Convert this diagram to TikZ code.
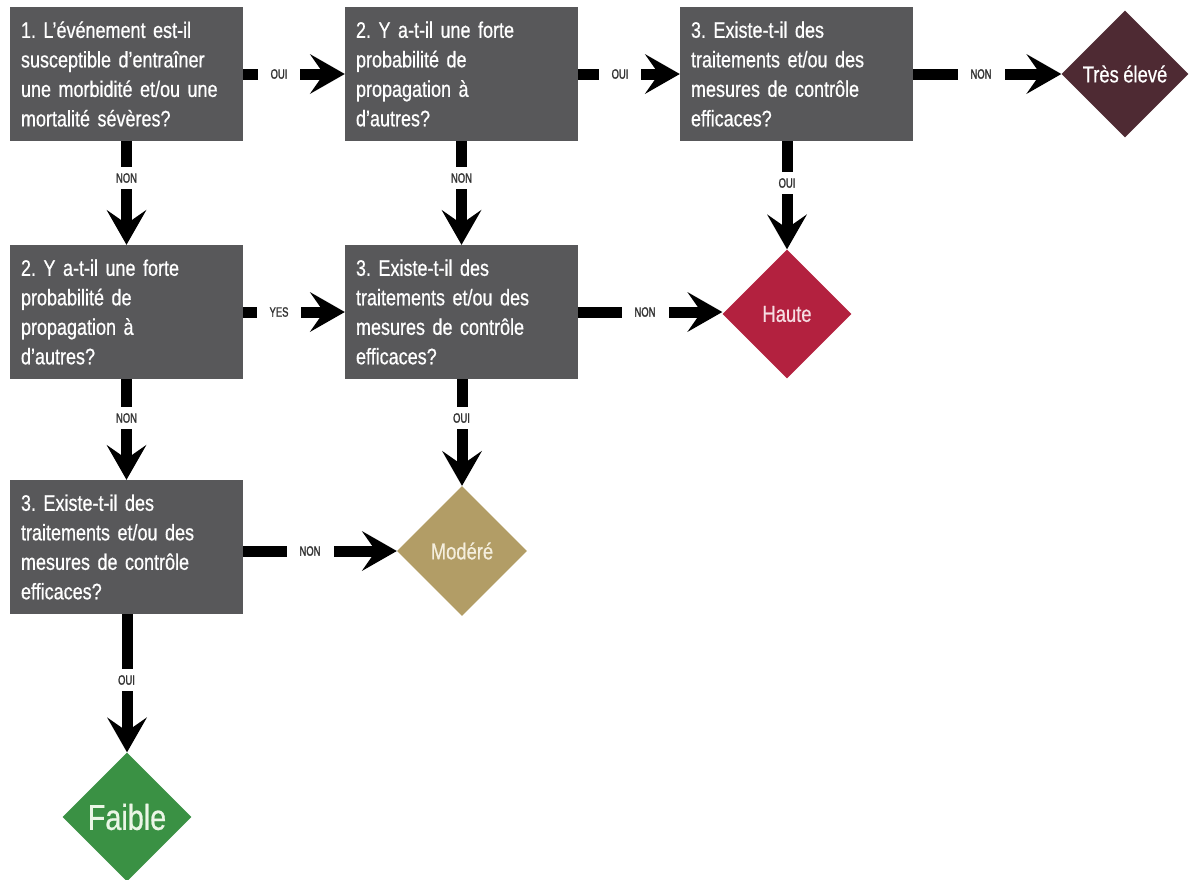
\documentclass[tikz,border=0pt]{standalone}
\usepackage{fontspec}
\setmainfont{Liberation Sans}[FakeStretch=0.8,FakeBold=0.6]
\newfontfamily\labfont{Liberation Sans}[FakeStretch=0.7,FakeBold=1.5]
\frenchspacing
\newcommand\qboxfont{\fontsize{22.5}{29.5}\selectfont\fontdimen2\font=4.5pt\relax}
\newcommand\trespfont{\fontsize{23}{23}\selectfont\fontdimen2\font=4.5pt\relax}
\usetikzlibrary{arrows.meta,shapes.geometric}
\definecolor{boxgray}{HTML}{58585A}
\definecolor{labgray}{HTML}{333333}
\definecolor{tresc}{HTML}{4E2A33}
\definecolor{hautec}{HTML}{B3213F}
\definecolor{hautetxt}{HTML}{F6DDE2}
\definecolor{moderec}{HTML}{B29D66}
\definecolor{moderetxt}{HTML}{F4EEDD}
\definecolor{faiblec}{HTML}{3A9144}
\definecolor{faibletxt}{HTML}{EAF6E6}
\begin{document}
\begin{tikzpicture}[x=1pt,y=-1pt,
  qbox/.style={fill=boxgray, text=white, minimum width=233pt, minimum height=134pt,
    inner sep=0pt, text width=211pt, align=left, font=\qboxfont},
  risk/.style={shape=diamond, aspect=1, inner sep=0pt, minimum width=#1, minimum height=#1},
  flow/.style={line width=11pt, draw=black,
    -{Stealth[length=35pt,width=40pt,inset=14pt,line width=0pt]}},
  hlab/.style={fill=white, text=labgray, inner xsep=13pt, inner ysep=3pt,
    font=\labfont\fontsize{13.5}{13.5}\selectfont},
  vlab/.style={fill=white, text=labgray, inner xsep=1pt, inner ysep=6pt,
    font=\labfont\fontsize{13.5}{13.5}\selectfont}]
\useasboundingbox (0,0) rectangle (1189,879);

% question boxes
\node[qbox] (b1) at (126.5,74) {1. L'événement est-il\\susceptible d'entraîner\\une morbidité et/ou une\\mortalité sévères?};
\node[qbox] (b2) at (461.5,74) {2. Y a-t-il une forte\\probabilité de\\propagation à\\d'autres?};
\node[qbox] (b3) at (796.5,74) {3. Existe-t-il des\\traitements et/ou des\\mesures de contrôle\\efficaces?};
\node[qbox] (b4) at (126.5,312) {2. Y a-t-il une forte\\probabilité de\\propagation à\\d'autres?};
\node[qbox] (b5) at (461.5,312) {3. Existe-t-il des\\traitements et/ou des\\mesures de contrôle\\efficaces?};
\node[qbox] (b6) at (126.5,547) {3. Existe-t-il des\\traitements et/ou des\\mesures de contrôle\\efficaces?};

% risk diamonds
\node[risk=127pt, fill=tresc, text=white, font=\trespfont] (tres) at (1125,74) {Très élevé};
\node[risk=129pt, fill=hautec, text=hautetxt, font=\fontsize{23}{23}\selectfont] (haute) at (787,314) {Haute};
\node[risk=130pt, fill=moderec, text=moderetxt, font=\fontsize{23}{23}\selectfont] (modere) at (462,551) {Modéré};
\node[risk=129pt, fill=faiblec, text=faibletxt, font=\fontsize{36}{36}\selectfont] (faible) at (127,817) {Faible};

% connectors
\draw[flow] (b1.east) -- (b2.west);
\draw[flow] (b2.east) -- (b3.west);
\draw[flow] (b3.east) -- (tres.west);
\draw[flow] (b1.south) -- (b4.north);
\draw[flow] (b2.south) -- (b5.north);
\draw[flow] (b3.south -| haute.north) -- (haute.north);
\draw[flow] (b4.east) -- (b5.west);
\draw[flow] (b5.east) -- (b5.east -| haute.west);
\draw[flow] (b4.south) -- (b6.north);
\draw[flow] (b5.south -| modere.north) -- (modere.north);
\draw[flow] (b6.east |- modere.west) -- (modere.west);
\draw[flow] (b6.south -| faible.north) -- (faible.north);

% connector labels
\node[hlab] (l1) at (279,74) {OUI};
\node[hlab] (l2) at (620,74) {OUI};
\node[hlab] (l3) at (981,74) {NON};
\node[vlab] (l4) at (126.5,178) {NON};
\node[vlab] (l5) at (461.5,178) {NON};
\node[vlab] (l6) at (787,183) {OUI};
\node[hlab] (l7) at (279,312) {YES};
\node[hlab] (l8) at (645,312) {NON};
\node[vlab] (l9) at (126.5,418) {NON};
\node[vlab] (l10) at (461.5,418) {OUI};
\node[hlab] (l11) at (310,551) {NON};
\node[vlab] (l12) at (126.5,680) {OUI};
\end{tikzpicture}
\end{document}
